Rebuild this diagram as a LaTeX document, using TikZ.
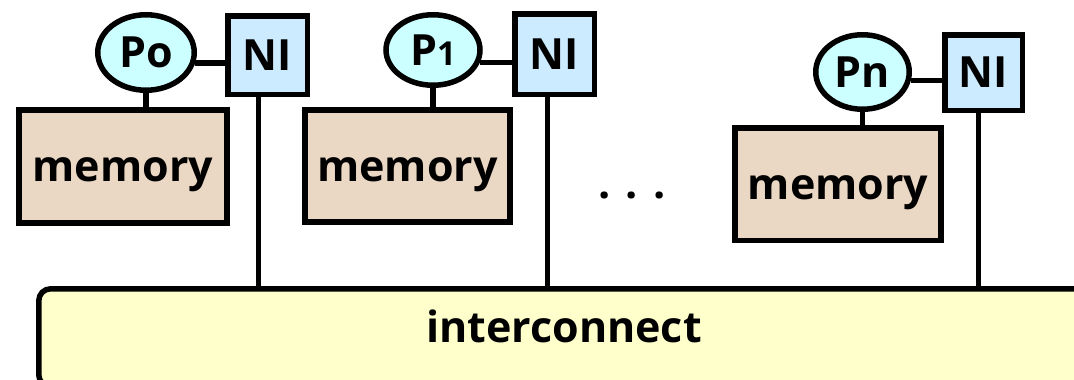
\documentclass[tikz,border=0pt]{standalone}
\usepackage{fontspec}
\setmainfont{Open Sans}
\usetikzlibrary{shapes.geometric}

\definecolor{procfill}{HTML}{CCFFFF}
\definecolor{nifill}{HTML}{CCEBFF}
\definecolor{memfill}{HTML}{EBD8C4}
\definecolor{busfill}{HTML}{FFFFCC}

\tikzset{
  labelfont/.style={font=\fontsize{43}{43}\selectfont\bfseries},
  outlined/.style={labelfont, line width=5.5pt, draw=black, inner sep=0pt},
  proc/.style={outlined, ellipse, fill=procfill},
  niface/.style={outlined, rectangle, fill=nifill},
  mem/.style={outlined, rectangle, fill=memfill, text height=30pt, text depth=0pt},
  wire/.style={line width=5.5pt},
}

\begin{document}
\begin{tikzpicture}[x=1pt,y=-1pt]
\useasboundingbox (0,0) rectangle (1074,380);

% interconnect bus (runs off the right and bottom edges)
\node[outlined, fill=busfill, rounded corners=12pt, minimum width=1058pt,
      minimum height=98pt, anchor=north west] (bus) at (36,286) {};
\node[labelfont, anchor=base] (buslabel) at (564,342) {interconnect};

% node 0
\node[proc, minimum width=96.5pt, minimum height=75.5pt] (P0) at (146,52.5) {Po};
\node[niface, minimum width=79.5pt, minimum height=78.5pt] (NI0) at (267.5,55) {NI};
\node[mem, minimum width=208pt, minimum height=113pt] (M0) at (123,166.5) {memory};

% node 1
\node[proc, minimum width=94pt, minimum height=70.5pt] (P1) at (433,50) {P{\fontsize{33}{33}\selectfont 1}};
\node[niface, minimum width=79.5pt, minimum height=80.5pt] (NI1) at (554.5,54) {NI};
\node[mem, minimum width=205pt, minimum height=112pt] (M1) at (407.5,166) {memory};

% node n
\node[proc, minimum width=93.5pt, minimum height=74.5pt] (Pn) at (862.5,72) {Pn};
\node[niface, minimum width=77.5pt, minimum height=75.5pt] (NIn) at (983.5,72.5) {NI};
\node[mem, minimum width=206pt, minimum height=112.5pt] (Mn) at (838,184) {memory};

% ellipsis between the nodes
\node[labelfont, anchor=base] (dots) at (632,198) {.\hspace{15pt}.\hspace{15pt}.};

% processor -- network interface
\draw[wire] (P0.-12) -- (P0.-12 -| NI0.west);
\draw[wire] (P1.-15) -- (P1.-15 -| NI1.west);
\draw[wire] (Pn.-10) -- (Pn.-10 -| NIn.west);

% processor -- memory
\draw[wire] (P0.south) -- (P0.south |- M0.north);
\draw[wire] (P1.south) -- (P1.south |- M1.north);
\draw[wire] (Pn.south) -- (Pn.south |- Mn.north);

% network interface -- interconnect
\draw[wire] ([xshift=-9pt]NI0.south) -- ([xshift=-9pt]NI0.south |- bus.north);
\draw[wire] ([xshift=-7pt]NI1.south) -- ([xshift=-7pt]NI1.south |- bus.north);
\draw[wire] ([xshift=-5pt]NIn.south) -- ([xshift=-5pt]NIn.south |- bus.north);
\end{tikzpicture}
\end{document}
